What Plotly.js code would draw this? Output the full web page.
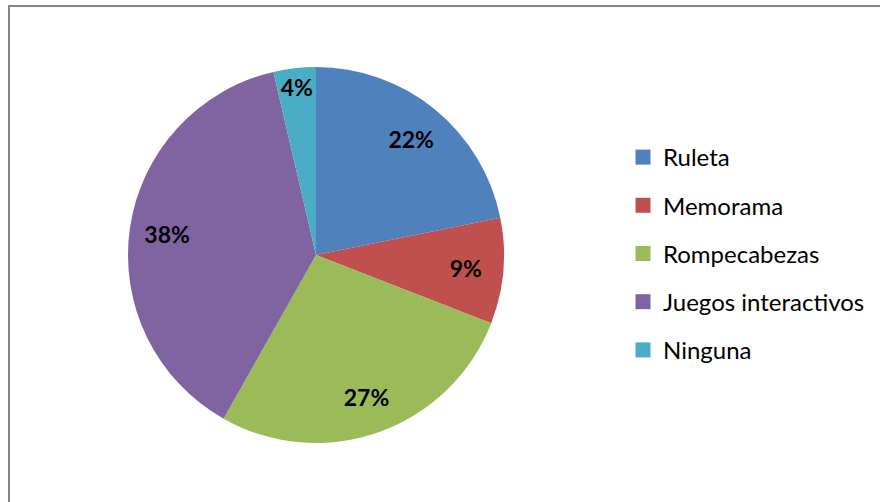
<!DOCTYPE html>
<html><head><meta charset="utf-8">
<script src="https://cdn.plot.ly/plotly-3.0.1.min.js"></script>
<style>html,body{margin:0;padding:0;background:#fff}#chart{width:880px;height:502px}</style>
</head><body><div id="chart"></div>
<script>
const categories = ['Ruleta', 'Memorama', 'Rompecabezas', 'Juegos interactivos', 'Ninguna'];
const counts = [12, 5, 15, 21, 2];
const colors = ['#4F81BD', '#C0504D', '#9BBB59', '#8064A2', '#4BACC6'];

const FONT = 'Lato, "Open Sans", sans-serif';
const pieDomain = {x: [128/880, 504/880], y: [59/502, 435/502]};

const traces = [
  {
    type: 'pie', labels: categories, values: counts, sort: false, direction: 'clockwise', rotation: 0,
    marker: {colors: colors, line: {width: 0}}, textinfo: 'none', showlegend: false,
    domain: pieDomain, hoverinfo: 'label+percent', automargin: false
  },
  {
    type: 'pie', labels: categories, values: counts, sort: false, direction: 'clockwise', rotation: 0,
    hole: 0.6, marker: {colors: categories.map(() => 'rgba(0,0,0,0)'), line: {width: 0}},
    textinfo: 'percent', texttemplate: '%{percent:.0%}', textposition: 'inside',
    insidetextorientation: 'horizontal',
    insidetextfont: {family: FONT, size: 23, color: '#000000', weight: 'bold'},
    showlegend: false, hoverinfo: 'skip', domain: pieDomain, automargin: false
  }
];
categories.forEach((c, i) => {
  traces.push({
    type: 'scatter', mode: 'markers', x: [null], y: [null], name: c, legendgroup: 'g' + i,
    marker: {symbol: 'square', size: 15, color: colors[i], line: {width: 0}},
    hoverinfo: 'skip', showlegend: true
  });
});

const layout = {
  width: 880, height: 502,
  margin: {l: 0, r: 0, t: 0, b: 0, autoexpand: false},
  paper_bgcolor: '#ffffff', plot_bgcolor: '#ffffff',
  xaxis: {visible: false}, yaxis: {visible: false},
  showlegend: true,
  uniformtext: {mode: 'show', minsize: 23},
  legend: {
    xref: 'container', yref: 'container', x: 623/880, y: 1 - 135/502,
    xanchor: 'left', yanchor: 'top', traceorder: 'grouped', tracegroupgap: 14,
    font: {family: FONT, size: 24, color: '#000000'}, bgcolor: 'rgba(0,0,0,0)', borderwidth: 0
  },
  shapes: [{
    type: 'rect', xref: 'paper', yref: 'paper', x0: 9/880, x1: 1.05, y0: -0.05, y1: 1 - 6/502,
    line: {color: '#868686', width: 2}, fillcolor: 'rgba(0,0,0,0)', layer: 'below'
  }]
};

Plotly.newPlot('chart', traces, layout, {displayModeBar: false, staticPlot: true});
</script>
</body></html>
